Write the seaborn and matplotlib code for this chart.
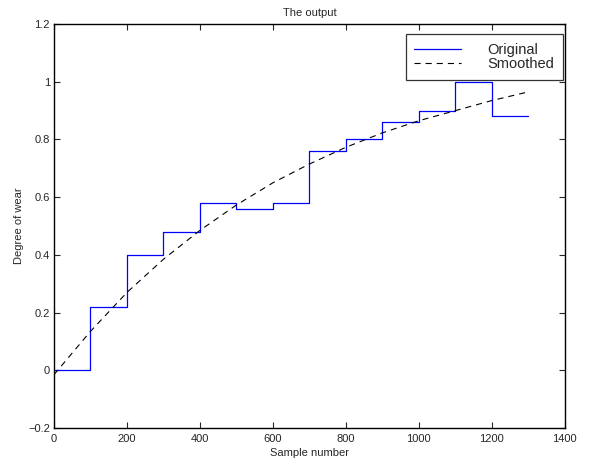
import matplotlib
matplotlib.use('Agg')
import matplotlib.pyplot as plt
import seaborn as sns

# ========================
# DATA
# ========================

# step edges of the original signal (level holds until next edge)
sample_edges = [0, 100, 200, 300, 400, 500, 600, 700, 800, 900, 1000, 1100, 1200, 1300]
wear_levels = [0.0, 0.22, 0.40, 0.48, 0.58, 0.56, 0.58, 0.76, 0.80, 0.86, 0.90, 1.00, 0.88, 0.88]

# smoothed curve
smooth_x = [0, 100, 200, 300, 400, 500, 600, 700, 800, 900, 1000, 1100, 1200, 1300]
smooth_y = [-0.015, 0.135, 0.27, 0.385, 0.485, 0.573, 0.65, 0.715, 0.773, 0.823, 0.865, 0.90, 0.935, 0.965]

x_ticks = [0, 200, 400, 600, 800, 1000, 1200, 1400]
y_ticks = [-0.2, 0, 0.2, 0.4, 0.6, 0.8, 1, 1.2]


sns.set_style("ticks")
plt.rcParams['font.family'] = ['Liberation Sans', 'DejaVu Sans']
plt.rcParams['font.size'] = 8
plt.rcParams['xtick.direction'] = 'in'
plt.rcParams['ytick.direction'] = 'in'
plt.rcParams['xtick.top'] = True
plt.rcParams['ytick.right'] = True

W, H = 589, 463
fig = plt.figure(figsize=(W / 100, H / 100), dpi=100)
ax = fig.add_axes([0.0917, 0.0756, 0.8673, 0.8724])

sns.lineplot(x=sample_edges, y=wear_levels, ax=ax, color='#0000ff', lw=0.9,
             drawstyle='steps-post', estimator=None, label='Original')
sns.lineplot(x=smooth_x, y=smooth_y, ax=ax, color='black', lw=0.8,
             estimator=None, label='Smoothed')
ax.lines[1].set_dashes((5.5, 4.5))

ax.set_xlim(0, 1400)
ax.set_ylim(-0.2, 1.2)
ax.set_xticks(x_ticks)
ax.set_yticks(y_ticks)
ax.set_xticklabels([str(t) for t in x_ticks])
ax.set_yticklabels(['\u22120.2', '0', '0.2', '0.4', '0.6', '0.8', '1', '1.2'])
ax.tick_params(axis='x', length=4, width=0.8, labelsize=8, pad=4)
ax.tick_params(axis='y', length=4, width=0.8, labelsize=8, pad=3)
for sp in ax.spines.values():
    sp.set_linewidth(1.0)
    sp.set_color('black')

ax.set_xlabel('Sample number', fontsize=8, labelpad=3)
ax.set_ylabel('Degree of wear', fontsize=8, labelpad=3)
ax.set_title('The output', fontsize=8, pad=6)

leg = ax.legend(loc='upper right', bbox_to_anchor=(563 / W, 1 - 34 / H),
                bbox_transform=fig.transFigure, borderaxespad=0,
                fontsize=10.5, frameon=True, fancybox=False,
                edgecolor='black', handlelength=3.2, handletextpad=1.8,
                borderpad=0.6, labelspacing=0.0)
leg.get_frame().set_linewidth(0.9)

fig.savefig('out.png', dpi=100)
